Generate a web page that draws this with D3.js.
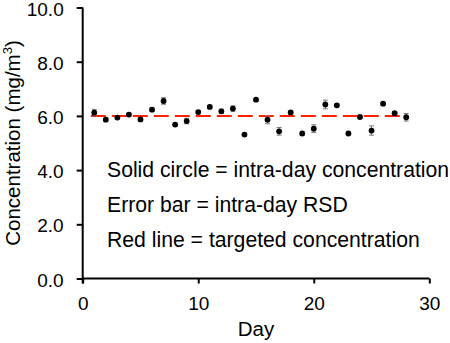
<!DOCTYPE html>
<html><head><meta charset="utf-8">
<script src="https://cdn.jsdelivr.net/npm/d3@7"></script>
<style>body{margin:0;background:#fff}svg{display:block}text{font-family:"Liberation Sans",Arial,sans-serif;fill:#000}</style>
</head><body>
<script>
const days = [1,2,3,4,5,6,7,8,9,10,11,12,13,14,15,16,17,18,19,20,21,22,23,24,25,26,27,28];
const conc = [6.12,5.86,5.94,6.05,5.87,6.23,6.55,5.68,5.81,6.14,6.33,6.17,6.27,5.31,6.60,5.86,5.43,6.13,5.35,5.53,6.42,6.39,5.35,5.96,5.46,6.45,6.10,5.95];
const rsd  = [0.12,0.05,0.05,0.05,0.06,0.05,0.12,0.05,0.10,0.05,0.06,0.08,0.10,0.05,0.05,0.15,0.14,0.06,0.05,0.14,0.16,0.05,0.05,0.05,0.17,0.05,0.06,0.14];
const target = 6.0;
const targetRange = [0.7, 28];
const xTicks = [0,10,20,30];
const yTicks = [0,2,4,6,8,10];
const notes = ["Solid circle = intra-day concentration","Error bar = intra-day RSD","Red line = targeted concentration"];

const W=450,H=343;
const svg=d3.select("body").append("svg").attr("width",W).attr("height",H);
const x=d3.scaleLinear().domain([0,30]).range([82.7,429.3]);
const y=d3.scaleLinear().domain([0,10]).range([278.5,7.5]);

const xa=svg.append("g").attr("transform",`translate(0,${y(0)})`)
  .call(d3.axisBottom(x).tickValues(xTicks).tickFormat(d3.format("d")).tickSizeOuter(0).tickSize(5).tickPadding(13));
const ya=svg.append("g").attr("transform",`translate(${x(0)},0)`)
  .call(d3.axisLeft(y).tickValues(yTicks).tickFormat(d3.format(".1f")).tickSizeOuter(0).tickSize(6).tickPadding(13));
[xa,ya].forEach(a=>{
  a.selectAll("path").attr("stroke","#000").attr("stroke-width",2);
  a.selectAll("line").attr("stroke","#000").attr("stroke-width",2);
  a.selectAll("text").attr("font-size",19).attr("font-family","Liberation Sans, Arial, sans-serif").attr("fill","#000");
});
ya.selectAll("text").attr("dy","0.4em");
ya.select("path").attr("d",`M0,${y(10)}V${y(0)+5}`);
xa.select("path").attr("d",`M${x(0)},0H${x(30)}`);

// target line
svg.append("line").attr("x1",x(targetRange[0])).attr("x2",x(targetRange[1]))
  .attr("y1",y(target)).attr("y2",y(target))
  .attr("stroke","#ff2200").attr("stroke-width",2).attr("stroke-dasharray","15,6");

// error bars
const eb=svg.append("g").attr("stroke","#777").attr("stroke-width",1);
days.forEach((d,i)=>{
  const cx=x(d), y1=y(conc[i]+rsd[i]), y2=y(conc[i]-rsd[i]);
  eb.append("line").attr("x1",cx).attr("x2",cx).attr("y1",y1).attr("y2",y2);
  eb.append("line").attr("x1",cx-2.5).attr("x2",cx+2.5).attr("y1",y1).attr("y2",y1);
  eb.append("line").attr("x1",cx-2.5).attr("x2",cx+2.5).attr("y1",y2).attr("y2",y2);
});

svg.append("g").selectAll("circle").data(days).join("circle")
  .attr("cx",d=>x(d)).attr("cy",(d,i)=>y(conc[i])).attr("r",2.9).attr("fill","#000");

// notes
notes.forEach((t,i)=>{
  svg.append("text").attr("x",107).attr("y",177+i*35).attr("font-size",21.2).text(t);
});

svg.append("text").attr("x",(x(0)+x(30))/2).attr("y",336).attr("text-anchor","middle").attr("font-size",20.5).text("Day");
const yl=svg.append("text").attr("transform",`translate(20,${(y(0)+y(10))/2}) rotate(-90)`)
  .attr("text-anchor","middle").attr("font-size",20.5);
yl.append("tspan").text("Concentration (mg/m");
yl.append("tspan").attr("font-size",13).attr("dy",-8).text("3");
yl.append("tspan").attr("dy",8).text(")");
</script>
</body></html>
